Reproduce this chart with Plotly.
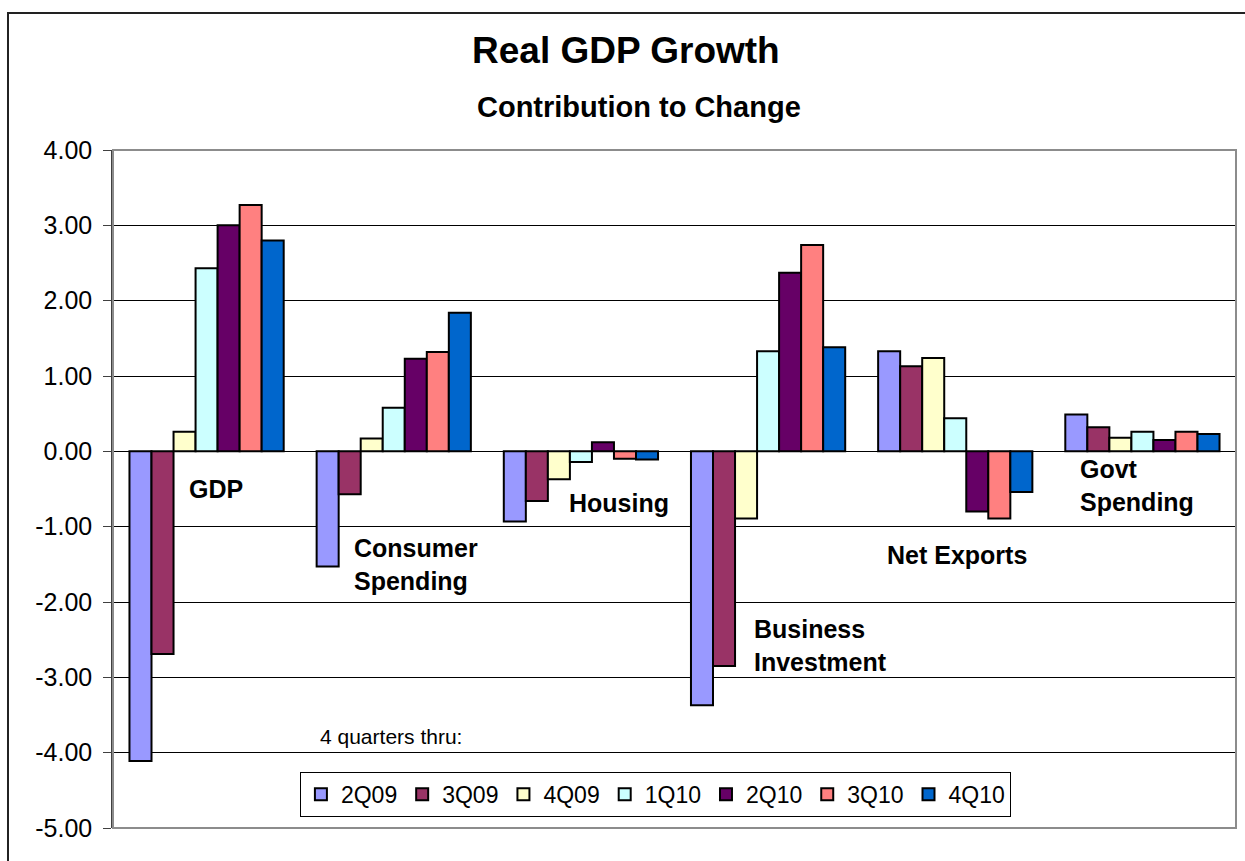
import plotly.graph_objects as go

# ---- data ----
categories = ["GDP", "Consumer Spending", "Housing", "Business Investment", "Net Exports", "Govt Spending"]
series_names = ["2Q09", "3Q09", "4Q09", "1Q10", "2Q10", "3Q10", "4Q10"]
q2_09 = [-4.11, -1.53, -0.93, -3.37, 1.33, 0.49]
q3_09 = [-2.69, -0.57, -0.66, -2.85, 1.13, 0.32]
q4_09 = [0.26, 0.17, -0.37, -0.89, 1.24, 0.18]
q1_10 = [2.43, 0.58, -0.14, 1.33, 0.44, 0.26]
q2_10 = [3.00, 1.23, 0.12, 2.37, -0.80, 0.15]
q3_10 = [3.27, 1.32, -0.10, 2.74, -0.89, 0.26]
q4_10 = [2.80, 1.84, -0.11, 1.38, -0.54, 0.23]
tick_vals = [4, 3, 2, 1, 0, -1, -2, -3, -4, -5]
tick_text = ["4.00", "3.00", "2.00", "1.00", "0.00", "-1.00", "-2.00", "-3.00", "-4.00", "-5.00"]
colors = ["#9999FF", "#993366", "#FFFFCC", "#CCFFFF", "#660066", "#FF8080", "#0066CC"]

FONT = "Liberation Sans, Arial, sans-serif"

fig = go.Figure()
for name, vals, col in zip(series_names, [q2_09, q3_09, q4_09, q1_10, q2_10, q3_10, q4_10], colors):
    fig.add_trace(go.Bar(
        x=categories, y=vals, name=name,
        marker=dict(color=col, line=dict(color="#000000", width=2)),
    ))

# category labels inside plot: (category, y, xshift, text)
labels = [
    ("GDP", -0.50, -20, "<b>GDP</b>"),
    ("Consumer Spending", -1.50, -42, "<b>Consumer<br>Spending</b>"),
    ("Housing", -0.69, -14, "<b>Housing</b>"),
    ("Business Investment", -2.58, -16, "<b>Business<br>Investment</b>"),
    ("Net Exports", -1.38, -70, "<b>Net Exports</b>"),
    ("Govt Spending", -0.46, -64, "<b>Govt<br>Spending</b>"),
]
annotations = []
for cat, yv, xs, txt in labels:
    annotations.append(dict(
        x=cat, y=yv, xref="x", yref="y", text=txt, showarrow=False,
        xanchor="left", yanchor="middle", align="left", xshift=xs,
        font=dict(family=FONT, size=25, color="#000000"),
    ))
annotations.append(dict(
    x=0.1825, y=-3.78, xref="paper", yref="y", text="4 quarters thru:", showarrow=False,
    xanchor="left", yanchor="middle", font=dict(family=FONT, size=21, color="#000000"),
))
annotations.append(dict(
    x=0.457, y=1.147, xref="paper", yref="paper", text="<b>Real GDP Growth</b>", showarrow=False,
    xanchor="center", yanchor="middle", font=dict(family=FONT, size=37, color="#000000"),
))
annotations.append(dict(
    x=0.468, y=1.064, xref="paper", yref="paper", text="<b>Contribution to Change</b>", showarrow=False,
    xanchor="center", yanchor="middle", font=dict(family=FONT, size=29, color="#000000"),
))

shapes = [
    # outer chart border (left and top visible)
    dict(type="rect", xref="paper", yref="paper", x0=-0.0935, x1=1.05, y0=-0.2, y1=1.202,
         line=dict(color="#222222", width=2), fillcolor="rgba(0,0,0,0)", layer="below"),
    # plot area border
    dict(type="rect", xref="paper", yref="paper", x0=0, x1=1, y0=0, y1=1,
         line=dict(color="#8c8c8c", width=2), fillcolor="rgba(0,0,0,0)", layer="above"),
]

fig.update_layout(
    width=1245, height=861,
    margin=dict(l=113, r=9, t=150, b=33),
    paper_bgcolor="white", plot_bgcolor="white",
    barmode="group", bargap=0.176, bargroupgap=0,
    font=dict(family=FONT, color="#000000"),
    showlegend=True,
    legend=dict(
        orientation="h", x=0.483, xanchor="center", y=0.083, yanchor="top",
        bgcolor="white", bordercolor="#000000", borderwidth=1,
        font=dict(family=FONT, size=23, color="#000000"),
        itemwidth=30, traceorder="normal",
    ),
    annotations=annotations,
    shapes=shapes,
    xaxis=dict(showticklabels=False, showgrid=False, ticks="", showline=False, zeroline=False),
    yaxis=dict(
        range=[-5, 4], tickvals=tick_vals, ticktext=tick_text,
        showgrid=True, gridcolor="#000000", gridwidth=1,
        zeroline=True, zerolinecolor="#000000", zerolinewidth=1,
        showline=True, linecolor="#404040", linewidth=1.5,
        ticks="outside", ticklen=8, tickcolor="#404040", ticklabelstandoff=6,
        tickfont=dict(family=FONT, size=25, color="#000000"),
    ),
)

fig.write_html("out.html")
